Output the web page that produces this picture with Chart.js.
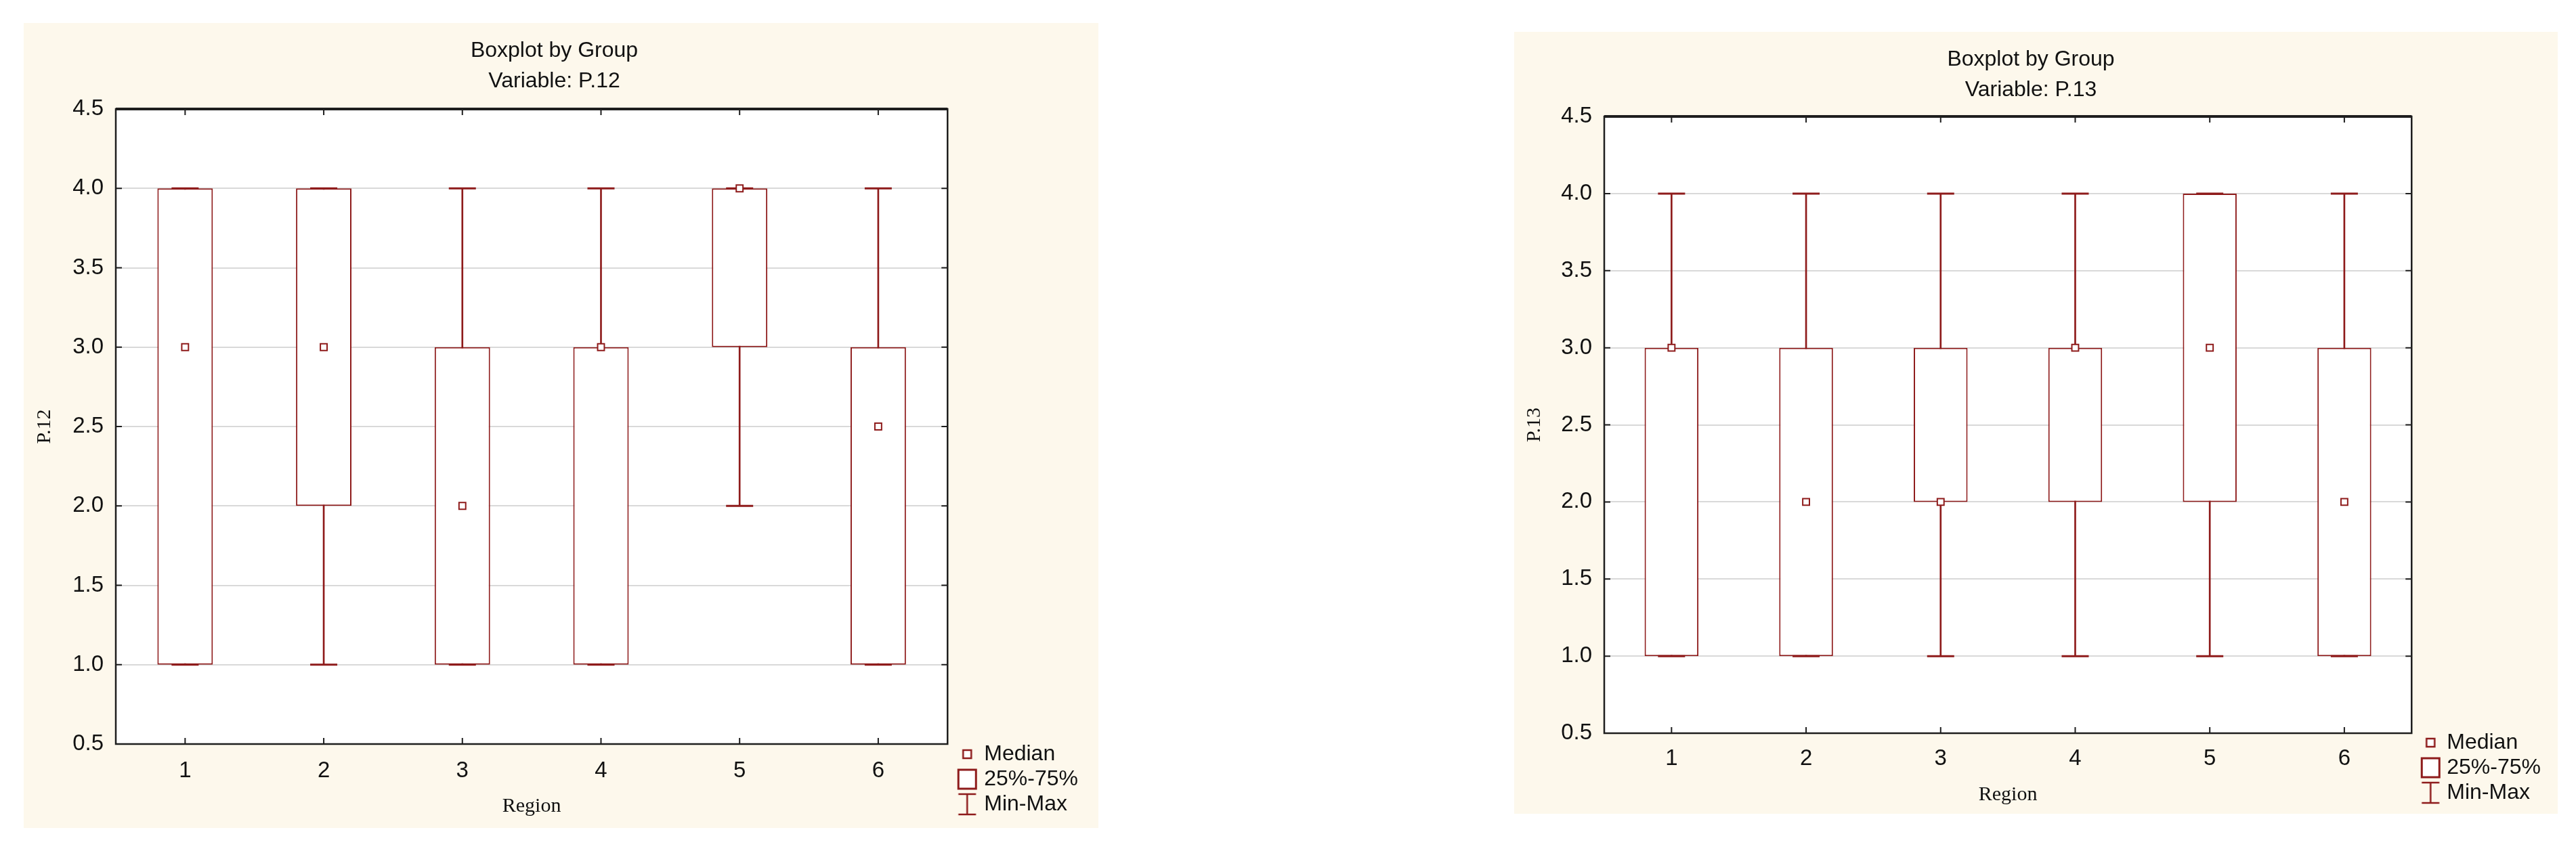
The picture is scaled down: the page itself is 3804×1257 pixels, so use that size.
<!DOCTYPE html>
<html>
<head>
<meta charset="utf-8">
<title>Boxplot by Group</title>
<script src="https://cdn.jsdelivr.net/npm/chart.js@4.4.1/dist/chart.umd.min.js"></script>
<style>
  html, body { margin: 0; padding: 0; background: #fff; }
  body { width: 3804px; height: 1257px; position: relative; overflow: hidden; }
  .panel { position: absolute; background: #fdf8ec; }
  .panel canvas { display: block; }
</style>
</head>
<body>
<div class="panel" style="left:35px;top:34px;width:1587px;height:1189px">
  <canvas id="chart12" width="1587" height="1189"></canvas>
</div>
<div class="panel" style="left:2236px;top:47px;width:1541px;height:1155px">
  <canvas id="chart13" width="1541" height="1155"></canvas>
</div>
<script>
// categories
const regions = ['1', '2', '3', '4', '5', '6'];

// Variable P.12
const p12Min    = [1, 1, 1, 1, 2, 1];
const p12Q1     = [1, 2, 1, 1, 3, 1];
const p12Median = [3, 3, 2, 3, 4, 2.5];
const p12Q3     = [4, 4, 3, 3, 4, 3];
const p12Max    = [4, 4, 4, 4, 4, 4];

// Variable P.13
const p13Min    = [1, 1, 1, 1, 1, 1];
const p13Q1     = [1, 1, 2, 2, 2, 1];
const p13Median = [3, 2, 2, 3, 3, 2];
const p13Q3     = [3, 3, 3, 3, 4, 3];
const p13Max    = [4, 4, 4, 4, 4, 4];

// y axis
const yMin = 0.5;
const yMax = 4.5;
const yStep = 0.5;

const legendTexts = ['Median', '25%-75%', 'Min-Max'];

const RED = '#8e1b1b';
const INK = '#111111';
const SANS = "'Liberation Sans', Arial, sans-serif";
const SERIF = "'Liberation Serif', 'Times New Roman', serif";

// legend icons (drawn a bit right of the canvas centre)
function makeIcon(kind) {
  const c = document.createElement('canvas');
  c.width = 48; c.height = 36;
  const g = c.getContext('2d');
  const cx = 31.5, cy = 18;
  g.strokeStyle = RED;
  g.fillStyle = '#fff';
  if (kind === 'median') {
    g.lineWidth = 2.5;
    g.fillRect(cx - 6, cy - 6, 12, 12);
    g.strokeRect(cx - 6, cy - 6, 12, 12);
  } else if (kind === 'box') {
    g.lineWidth = 3;
    g.fillRect(cx - 13, cy - 14, 26, 28);
    g.strokeRect(cx - 13, cy - 14, 26, 28);
  } else {
    g.lineWidth = 2.5;
    g.beginPath();
    g.moveTo(cx - 13, cy - 15); g.lineTo(cx + 13, cy - 15);
    g.moveTo(cx, cy - 15); g.lineTo(cx, cy + 15);
    g.moveTo(cx - 13, cy + 15); g.lineTo(cx + 13, cy + 15);
    g.stroke();
  }
  return c;
}
const icons = [makeIcon('median'), makeIcon('box'), makeIcon('range')];

// white plot area, inward ticks and frame
const framePlugin = {
  id: 'frame',
  beforeDraw(chart) {
    const a = chart.chartArea;
    const ctx = chart.ctx;
    ctx.save();
    ctx.fillStyle = '#fff';
    ctx.fillRect(a.left, a.top, a.right - a.left, a.bottom - a.top);
    ctx.restore();
  },
  afterDraw(chart) {
    const a = chart.chartArea;
    const ctx = chart.ctx;
    const xs = chart.scales.x, ys = chart.scales.y;
    ctx.save();
    ctx.strokeStyle = '#1e1e1e';
    ctx.lineWidth = 2;
    ctx.beginPath();
    ys.ticks.forEach(t => {
      const y = ys.getPixelForValue(t.value);
      ctx.moveTo(a.left, y); ctx.lineTo(a.left + 9, y);
      ctx.moveTo(a.right - 9, y); ctx.lineTo(a.right, y);
    });
    regions.forEach((r, i) => {
      const x = xs.getPixelForValue(i);
      ctx.moveTo(x, a.top); ctx.lineTo(x, a.top + 9);
      ctx.moveTo(x, a.bottom - 9); ctx.lineTo(x, a.bottom);
    });
    ctx.stroke();
    ctx.lineWidth = 2.5;
    ctx.strokeRect(a.left, a.top, a.right - a.left, a.bottom - a.top);
    ctx.lineWidth = 4;
    ctx.beginPath();
    ctx.moveTo(a.left, a.top); ctx.lineTo(a.right, a.top);
    ctx.stroke();
    ctx.restore();
  }
};

function makeBoxplot(canvasId, variable, mins, q1s, medians, q3s, maxs, fit) {
  const ctx = document.getElementById(canvasId);
  return new Chart(ctx, {
    data: {
      labels: regions,
      datasets: [
        {
          type: 'line', label: 'Median', data: medians, showLine: false,
          pointStyle: 'rect', pointRadius: 7, pointHoverRadius: 7, pointBorderWidth: 2,
          pointBackgroundColor: '#fff', pointBorderColor: RED, order: 0
        },
        {
          type: 'line', label: 'Max', data: maxs, showLine: false,
          pointStyle: 'line', pointRadius: 20, pointHoverRadius: 20, pointBorderWidth: 3,
          pointBorderColor: RED, order: 1
        },
        {
          type: 'line', label: 'Min', data: mins, showLine: false,
          pointStyle: 'line', pointRadius: 20, pointHoverRadius: 20, pointBorderWidth: 3,
          pointBorderColor: RED, order: 1
        },
        {
          type: 'bar', label: '25%-75%', data: q1s.map((v, i) => [v, q3s[i]]),
          backgroundColor: '#fff', borderColor: RED, borderWidth: 2, borderSkipped: false,
          barPercentage: 0.4, categoryPercentage: 1, grouped: false, order: 2
        },
        {
          type: 'bar', label: 'Min-Max', data: mins.map((v, i) => [v, maxs[i]]),
          backgroundColor: RED, borderWidth: 0, barThickness: 2, grouped: false, order: 3
        }
      ]
    },
    options: {
      responsive: false,
      animation: false,
      events: [],
      layout: { padding: { left: 0, top: 0, right: fit.padRight, bottom: fit.padBottom } },
      plugins: {
        tooltip: { enabled: false },
        title: {
          display: true,
          text: ['Boxplot by Group', 'Variable: ' + variable],
          color: INK,
          font: { family: SANS, size: 32, weight: 'normal', lineHeight: 1.4 },
          padding: { top: 18.6, bottom: fit.titlePadBottom }
        },
        legend: {
          position: 'right',
          align: 'end',
          labels: {
            usePointStyle: true,
            pointStyleWidth: fit.boxW,
            padding: 5,
            color: INK,
            font: { family: SANS, size: 32 },
            generateLabels: () => legendTexts.map((t, i) => ({
              text: t, pointStyle: icons[i], fillStyle: '#fff', strokeStyle: RED,
              lineWidth: 0, hidden: false, datasetIndex: i, fontColor: INK
            }))
          }
        }
      },
      scales: {
        x: {
          type: 'category',
          offset: true,
          grid: { display: false, drawTicks: false },
          border: { display: false },
          ticks: { color: INK, font: { family: SANS, size: 33 }, padding: fit.xTickPad },
          title: {
            display: true, text: 'Region', color: INK,
            font: { family: SERIF, size: 30 }, padding: { top: 0, bottom: 0 }
          },
          afterFit: s => { s.height = fit.xAxisH; }
        },
        y: {
          min: yMin,
          max: yMax,
          grid: { color: '#d9d9d9', lineWidth: 2, drawTicks: false },
          border: { display: false },
          ticks: {
            stepSize: yStep, color: INK, padding: 18,
            font: { family: SANS, size: 33 },
            callback: v => Number(v).toFixed(1)
          },
          title: {
            display: true, text: variable, color: INK,
            font: { family: SERIF, size: 30 }, padding: { top: fit.yTitlePad, bottom: 0 }
          },
          afterFit: s => { s.width = fit.yAxisW; }
        }
      }
    },
    plugins: [framePlugin]
  });
}

makeBoxplot('chart12', 'P.12', p12Min, p12Q1, p12Median, p12Q3, p12Max, {
  yAxisW: 136, xAxisH: 110, padRight: 20, padBottom: 14, boxW: 33,
  titlePadBottom: 18.8, yTitlePad: 13, xTickPad: 20
});
makeBoxplot('chart13', 'P.13', p13Min, p13Q1, p13Median, p13Q3, p13Max, {
  yAxisW: 133, xAxisH: 109, padRight: 15, padBottom: 10, boxW: 31,
  titlePadBottom: 16.8, yTitlePad: 12.5, xTickPad: 18
});
</script>
</body>
</html>
